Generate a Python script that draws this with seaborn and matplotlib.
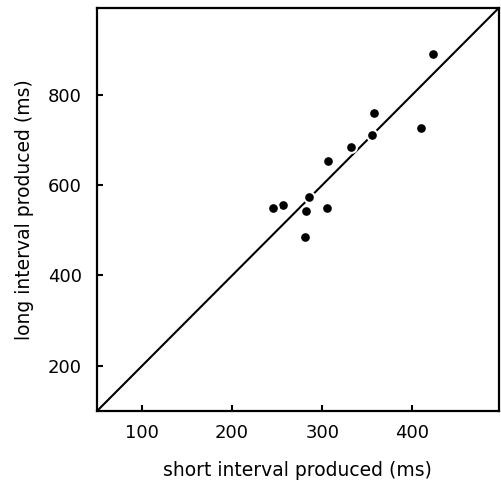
import matplotlib
matplotlib.use("Agg")
import matplotlib.pyplot as plt
import seaborn as sns
import pandas as pd

short_ms = [422.6, 357.6, 410.0, 355.7, 331.6, 306.3, 285.1, 256.5, 245.3, 282.1, 305.2, 280.7]
long_ms = [890.0, 760.0, 725.7, 710.0, 684.6, 653.7, 572.8, 556.7, 548.5, 543.4, 549.2, 485.2]
line_x = [50, 496]
line_y = [100, 992]
x_ticks = [100, 200, 300, 400]
y_ticks = [200, 400, 600, 800]

sns.set_theme(style="ticks")
plt.rcParams['font.family'] = ['DejaVu Sans']
plt.rcParams['text.color'] = 'black'
plt.rcParams['axes.labelcolor'] = 'black'

fig = plt.figure(figsize=(5.02, 4.86), dpi=100)
ax = fig.add_axes([0.193, 0.154, 0.801, 0.830])

df = pd.DataFrame({"short": short_ms, "long": long_ms})
sns.lineplot(x=line_x, y=line_y, ax=ax, color="black", linewidth=1.5, zorder=1)
sns.scatterplot(data=df, x="short", y="long", ax=ax, color="black", s=60,
                edgecolor="white", linewidth=1.5, zorder=3)

ax.set_xlim(50, 496)
ax.set_ylim(100, 992)
ax.set_xticks(x_ticks)
ax.set_yticks(y_ticks)
ax.tick_params(direction="in", length=4, width=1.5, labelsize=13, colors="black")
ax.tick_params(axis="x", pad=9)
ax.tick_params(axis="y", pad=11)
for s in ax.spines.values():
    s.set_linewidth(1.6)
    s.set_color("black")
ax.set_xlabel("short interval produced (ms)", fontsize=13.5, labelpad=14, color="black")
ax.set_ylabel("long interval produced (ms)", fontsize=13.5, labelpad=10, color="black")

fig.savefig("out.png", dpi=100)
